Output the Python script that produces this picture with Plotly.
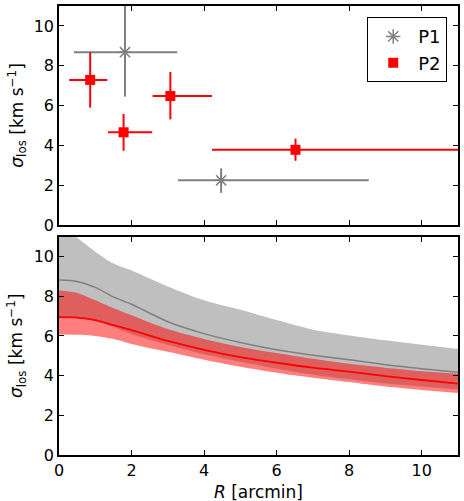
import plotly.graph_objects as go
from plotly.subplots import make_subplots

# ---- Top panel data (binned dispersions) ----
p1_R = [1.82, 4.47]
p1_R_minus = [1.41, 1.19]
p1_R_plus = [1.44, 4.07]
p1_sig = [8.68, 2.25]
p1_sig_minus = [2.23, 0.63]
p1_sig_plus = [3.0, 0.6]

p2_R = [0.86, 1.78, 3.07, 6.52]
p2_R_minus = [0.58, 0.43, 0.49, 2.30]
p2_R_plus = [0.47, 0.79, 1.15, 5.5]
p2_sig = [7.29, 4.66, 6.48, 3.78]
p2_sig_minus = [1.39, 0.93, 1.17, 0.55]
p2_sig_plus = [1.39, 0.92, 1.21, 0.56]

# ---- Bottom panel data (model profiles) ----
R_grid = [0, 0.5, 1, 1.5, 2, 3, 4, 5, 6, 7, 8, 9, 10, 11]
p1_upper = [11.6, 10.95, 10.25, 9.65, 9.3, 8.5, 7.8, 7.32, 6.8, 6.32, 6.03, 5.78, 5.56, 5.35]
p1_median = [8.82, 8.75, 8.45, 7.97, 7.6, 6.72, 6.12, 5.67, 5.3, 5.03, 4.8, 4.55, 4.35, 4.17]
p1_lower = [6.95, 6.93, 6.78, 6.45, 6.1, 5.55, 5.08, 4.7, 4.35, 4.05, 3.82, 3.6, 3.45, 3.3]
p2_upper = [8.29, 8.17, 7.8, 7.4, 7.05, 6.35, 5.85, 5.45, 5.14, 4.85, 4.6, 4.4, 4.22, 4.1]
p2_median = [6.95, 6.93, 6.8, 6.55, 6.3, 5.75, 5.3, 4.93, 4.65, 4.4, 4.2, 3.98, 3.78, 3.6]
p2_lower = [6.07, 6.06, 6.0, 5.85, 5.6, 5.2, 4.8, 4.45, 4.15, 3.9, 3.68, 3.45, 3.28, 3.13]

x_ticks = [0, 2, 4, 6, 8, 10]
y_ticks = [0, 2, 4, 6, 8, 10]

FONT = "DejaVu Sans"
GRAY = "#808080"
RED = "#ff0000"

fig = make_subplots(rows=2, cols=1, shared_xaxes=False, vertical_spacing=0.026)

# Top panel
fig.add_trace(go.Scatter(
    x=p1_R, y=p1_sig, mode="markers", name="P1",
    marker=dict(symbol="asterisk-open", size=12, color=GRAY,
                line=dict(color=GRAY, width=1.5)),
    error_x=dict(type="data", symmetric=False, array=p1_R_plus, arrayminus=p1_R_minus,
                 color=GRAY, thickness=2, width=0),
    error_y=dict(type="data", symmetric=False, array=p1_sig_plus, arrayminus=p1_sig_minus,
                 color=GRAY, thickness=2, width=0),
), row=1, col=1)

fig.add_trace(go.Scatter(
    x=p2_R, y=p2_sig, mode="markers", name="P2",
    marker=dict(symbol="square", size=10, color=RED),
    error_x=dict(type="data", symmetric=False, array=p2_R_plus, arrayminus=p2_R_minus,
                 color=RED, thickness=2, width=0),
    error_y=dict(type="data", symmetric=False, array=p2_sig_plus, arrayminus=p2_sig_minus,
                 color=RED, thickness=2, width=0),
), row=1, col=1)

# Bottom panel bands
band_line = dict(width=0, shape="spline", smoothing=0.8)
fig.add_trace(go.Scatter(x=R_grid, y=p1_upper, mode="lines", line=band_line,
                         showlegend=False, hoverinfo="skip"), row=2, col=1)
fig.add_trace(go.Scatter(x=R_grid, y=p1_lower, mode="lines", line=band_line,
                         fill="tonexty", fillcolor="rgba(128,128,128,0.5)",
                         showlegend=False, hoverinfo="skip"), row=2, col=1)
fig.add_trace(go.Scatter(x=R_grid, y=p2_upper, mode="lines", line=band_line,
                         showlegend=False, hoverinfo="skip"), row=2, col=1)
fig.add_trace(go.Scatter(x=R_grid, y=p2_lower, mode="lines", line=band_line,
                         fill="tonexty", fillcolor="rgba(255,0,0,0.5)",
                         showlegend=False, hoverinfo="skip"), row=2, col=1)
fig.add_trace(go.Scatter(x=R_grid, y=p1_median, mode="lines",
                         line=dict(color=GRAY, width=1.5, shape="spline", smoothing=0.8),
                         showlegend=False), row=2, col=1)
fig.add_trace(go.Scatter(x=R_grid, y=p2_median, mode="lines",
                         line=dict(color=RED, width=1.8, shape="spline", smoothing=0.8),
                         showlegend=False), row=2, col=1)

axis_common = dict(
    range=[0, 11], showline=True, linecolor="black", linewidth=1.5, mirror="ticks",
    ticks="inside", ticklen=5, tickwidth=1, tickcolor="black", automargin=False,
    showgrid=False, zeroline=False, tickfont=dict(family=FONT, size=16, color="black"),
)

fig.update_xaxes(**axis_common, tickvals=x_ticks)
fig.update_yaxes(**axis_common, tickvals=y_ticks)
fig.update_xaxes(showticklabels=False, row=1, col=1)

title_font = dict(family=FONT, size=17, color="black")
ytitle = "<i>σ</i><sub>los</sub> [km s<sup>−1</sup>]"
fig.add_annotation(text=ytitle, xref="paper", yref="paper", x=-0.105, y=0.756,
                   xanchor="center", yanchor="middle", textangle=-90, showarrow=False,
                   font=title_font)
fig.add_annotation(text=ytitle, xref="paper", yref="paper", x=-0.105, y=0.243,
                   xanchor="center", yanchor="middle", textangle=-90, showarrow=False,
                   font=title_font)
fig.add_annotation(text="<i>R</i> [arcmin]", xref="paper", yref="paper", x=0.5, y=-0.082,
                   xanchor="center", yanchor="middle", showarrow=False, font=title_font)

fig.update_layout(
    width=464, height=501,
    margin=dict(l=59, r=6, t=6, b=46, autoexpand=False),
    paper_bgcolor="white", plot_bgcolor="white",
    font=dict(family=FONT, size=16, color="black"),
    legend=dict(x=0.973, y=0.975, xanchor="right", yanchor="top", traceorder="normal",
                bgcolor="white", bordercolor="black", borderwidth=1,
                font=dict(family=FONT, size=18, color="black"),
                itemwidth=40),
    showlegend=True,
)
fig.layout.yaxis.domain = [0.512, 1.0]
fig.layout.yaxis2.domain = [0.0, 0.486]

fig.write_html("out.html", config={"displayModeBar": False},
               post_script="document.body.style.margin='0';")
